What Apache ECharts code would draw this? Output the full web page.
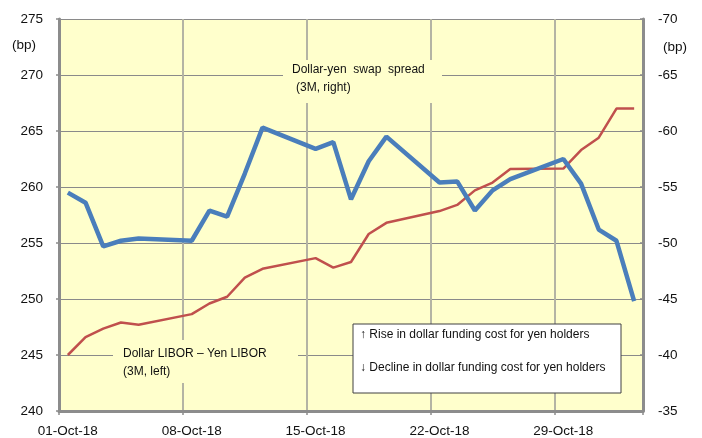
<!DOCTYPE html>
<html>
<head>
<meta charset="utf-8">
<script src="https://cdn.jsdelivr.net/npm/echarts@6/dist/echarts.min.js"></script>
<style>
  html, body { margin: 0; padding: 0; background: #fff; }
  #chart { width: 702px; height: 438px; }
</style>
</head>
<body>
<div id="chart"></div>
<script>
// one slot per calendar day, weekends left empty
var days = [
  '01-Oct-18', '02-Oct-18', '03-Oct-18', '04-Oct-18', '05-Oct-18', '06-Oct-18', '07-Oct-18',
  '08-Oct-18', '09-Oct-18', '10-Oct-18', '11-Oct-18', '12-Oct-18', '13-Oct-18', '14-Oct-18',
  '15-Oct-18', '16-Oct-18', '17-Oct-18', '18-Oct-18', '19-Oct-18', '20-Oct-18', '21-Oct-18',
  '22-Oct-18', '23-Oct-18', '24-Oct-18', '25-Oct-18', '26-Oct-18', '27-Oct-18', '28-Oct-18',
  '29-Oct-18', '30-Oct-18', '31-Oct-18', '01-Nov-18', '02-Nov-18'
];

// Dollar LIBOR - Yen LIBOR (3M, left axis)
var liborSpread = [
  245.0, 246.6, 247.35, 247.9, 247.7, null, null,
  248.65, 249.6, 250.2, 251.9, 252.7, null, null,
  253.65, 252.8, 253.3, 255.8, 256.8, null, null,
  257.85, 258.4, 259.7, 260.4, 261.6, null, null,
  261.65, 263.3, 264.4, 267.0, 267.0
];

// Dollar-yen swap spread (3M, right axis)
var swapSpread = [
  -54.5, -53.6, -49.7, -50.2, -50.4, null, null,
  -50.2, -52.9, -52.35, -56.2, -60.3, null, null,
  -58.4, -59.0, -53.9, -57.3, -59.5, null, null,
  -55.4, -55.5, -52.9, -54.7, -55.7, null, null,
  -57.5, -55.3, -51.2, -50.2, -44.8
];

var leftTicks = { min: 240, max: 275, step: 5 };
var rightTicks = { min: -70, max: -35, step: 5 };

var font = 'Liberation Sans, Arial, sans-serif';
var chart = echarts.init(document.getElementById('chart'));

var weekly = function (idx) { return idx % 7 === 0; };

var option = {
  animation: false,
  grid: {
    left: 59, right: 59, top: 19, bottom: 27,
    show: true, backgroundColor: '#FFFFCC', borderWidth: 0
  },
  xAxis: {
    type: 'category',
    data: days,
    boundaryGap: true,
    axisLine: { lineStyle: { color: '#8c8c8c', width: 3 } },
    axisTick: { show: true, interval: weekly, length: 4, lineStyle: { color: '#8c8c8c', width: 1.5 } },
    axisLabel: { interval: weekly, color: '#111', fontFamily: font, fontSize: 13.5, margin: 13 },
    splitLine: { show: true, interval: weekly, lineStyle: { color: '#b4b4a4', width: 2 } }
  },
  yAxis: [
    {
      type: 'value',
      min: leftTicks.min, max: leftTicks.max, interval: leftTicks.step,
      position: 'left',
      axisLine: { show: true, lineStyle: { color: '#8c8c8c', width: 3 } },
      axisTick: { show: true, length: 3, lineStyle: { color: '#8c8c8c', width: 1.5 } },
      axisLabel: { color: '#111', fontFamily: font, fontSize: 13.5, margin: 16 },
      splitLine: { show: true, lineStyle: { color: '#8a8a8a', width: 1.2 } }
    },
    {
      type: 'value',
      min: rightTicks.min, max: rightTicks.max, interval: rightTicks.step,
      inverse: true,
      position: 'right',
      axisLine: { show: true, lineStyle: { color: '#8c8c8c', width: 3 } },
      axisTick: { show: true, inside: true, length: 3, lineStyle: { color: '#8c8c8c', width: 1.5 } },
      axisLabel: { color: '#111', fontFamily: font, fontSize: 13.5, margin: 15 },
      splitLine: { show: false }
    }
  ],
  series: [
    {
      name: 'Dollar LIBOR – Yen LIBOR',
      type: 'line',
      yAxisIndex: 0,
      data: liborSpread,
      connectNulls: true,
      symbol: 'none',
      lineStyle: { color: '#C0504D', width: 2.5 }
    },
    {
      name: 'Dollar-yen swap spread',
      type: 'line',
      yAxisIndex: 1,
      data: swapSpread,
      connectNulls: true,
      symbol: 'none',
      lineStyle: { color: '#4A7EBB', width: 4.5 }
    }
  ],
  graphic: [
    // units
    { type: 'text', left: 12, top: 38, style: { text: '(bp)', font: '13.5px ' + font, fill: '#111' } },
    { type: 'text', left: 663, top: 40, style: { text: '(bp)', font: '13.5px ' + font, fill: '#111' } },

    // swap spread label
    { type: 'rect', z: 1, shape: { x: 283, y: 60, width: 159, height: 43 }, style: { fill: '#FFFFCC' } },
    { type: 'text', z: 2, left: 292, top: 64, style: { text: 'Dollar-yen  swap  spread', font: '12px ' + font, fill: '#111' } },
    { type: 'text', z: 2, left: 296, top: 82, style: { text: '(3M, right)', font: '12px ' + font, fill: '#111' } },

    // libor label
    { type: 'rect', z: 1, shape: { x: 113, y: 340, width: 185, height: 43 }, style: { fill: '#FFFFCC' } },
    { type: 'text', z: 2, left: 123, top: 348, style: { text: 'Dollar LIBOR – Yen LIBOR', font: '12px ' + font, fill: '#111' } },
    { type: 'text', z: 2, left: 123, top: 366, style: { text: '(3M, left)', font: '12px ' + font, fill: '#111' } },

    // direction note
    { type: 'rect', z: 10, shape: { x: 353, y: 324, width: 268, height: 69 }, style: { fill: '#fff', stroke: '#404040', lineWidth: 1 } },
    { type: 'text', z: 11, left: 360, top: 329, style: { text: '↑ Rise in dollar funding cost for yen holders', font: '12px ' + font, fill: '#111' } },
    { type: 'text', z: 11, left: 360, top: 362, style: { text: '↓ Decline in dollar funding cost for yen holders', font: '12px ' + font, fill: '#111' } }
  ]
};

chart.setOption(option);
</script>
</body>
</html>
